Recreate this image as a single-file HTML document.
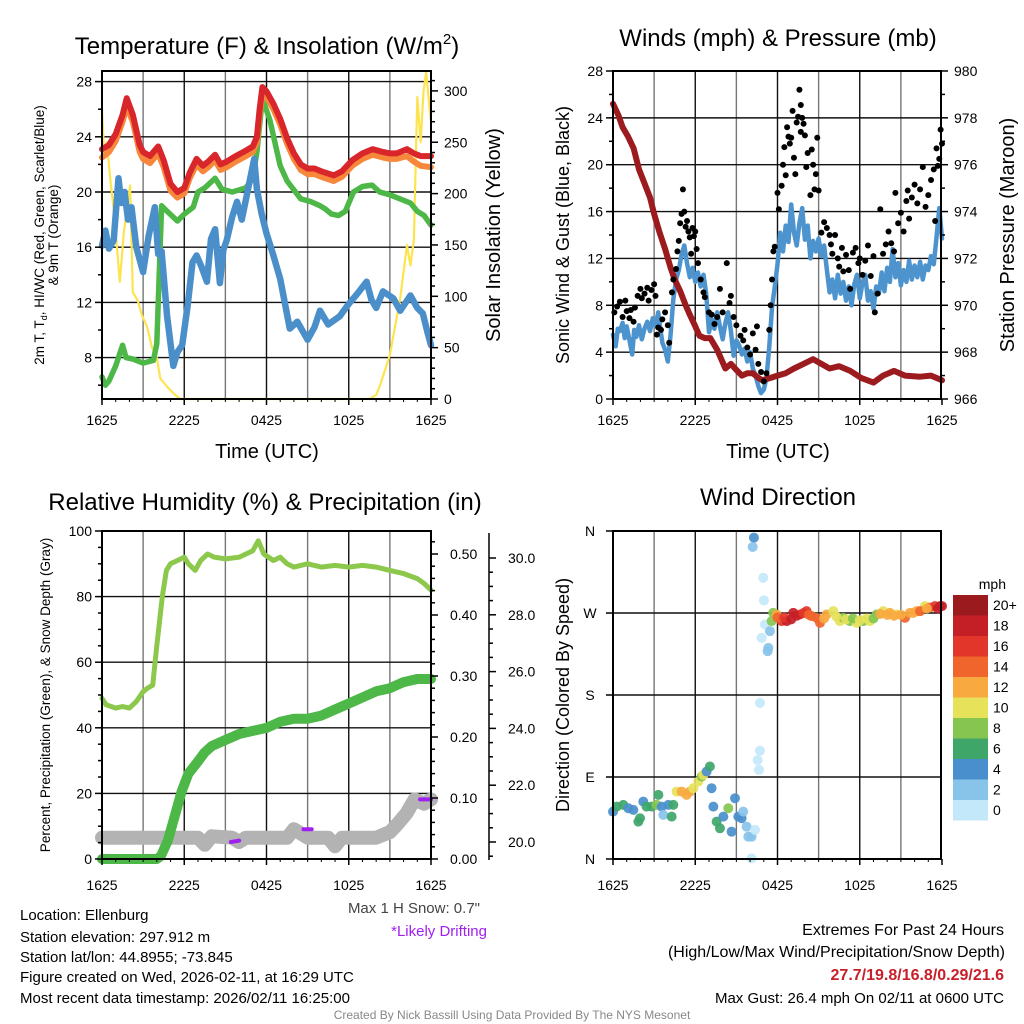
<!DOCTYPE html>
<html><head><meta charset="utf-8">
<style>
html,body{margin:0;padding:0;background:#fff;}
svg{display:block;font-family:"Liberation Sans",Arial,sans-serif;}
</style></head>
<body>
<svg id="fig" width="1024" height="1024" viewBox="0 0 1024 1024" xmlns="http://www.w3.org/2000/svg">
<rect width="1024" height="1024" fill="#fff"/>
<g id="grids"></g>
<g id="series"></g>
<g id="frames"></g>
<g id="texts" fill="#000">
<text x="267" y="54" font-size="24" text-anchor="middle">Temperature (F) &amp; Insolation (W/m<tspan dy="-10" font-size="15">2</tspan><tspan dy="10">)</tspan></text>
<text transform="translate(44,235) rotate(-90)" font-size="13.5" text-anchor="middle">2m T, T<tspan font-size="9" dy="3">d</tspan><tspan dy="-3">, HI/WC (Red, Green, Scarlet/Blue)</tspan></text>
<text transform="translate(58,235) rotate(-90)" font-size="13.5" text-anchor="middle">&amp; 9m T (Orange)</text>
<text transform="translate(500,235) rotate(-90)" font-size="20" text-anchor="middle">Solar Insolation (Yellow)</text>
<text x="267" y="458" font-size="20" text-anchor="middle">Time (UTC)</text>
<text x="778" y="46" font-size="24" text-anchor="middle">Winds (mph) &amp; Pressure (mb)</text>
<text transform="translate(569,235) rotate(-90)" font-size="18" text-anchor="middle">Sonic Wind &amp; Gust (Blue, Black)</text>
<text transform="translate(1014,235) rotate(-90)" font-size="20" text-anchor="middle">Station Pressure (Maroon)</text>
<text x="778" y="458" font-size="20" text-anchor="middle">Time (UTC)</text>
<text x="265" y="510" font-size="24" text-anchor="middle">Relative Humidity (%) &amp; Precipitation (in)</text>
<text transform="translate(50,695) rotate(-90)" font-size="13.5" text-anchor="middle">Percent, Precipitation (Green), &amp; Snow Depth (Gray)</text>
<text x="778" y="505" font-size="24" text-anchor="middle">Wind Direction</text>
<text transform="translate(569,695) rotate(-90)" font-size="18" text-anchor="middle">Direction (Colored By Speed)</text>
<text x="1006" y="589" font-size="14" text-anchor="end">mph</text>
<g font-size="15">
<text x="20" y="920">Location: Ellenburg</text>
<text x="20" y="942">Station elevation: 297.912 m</text>
<text x="20" y="962">Station lat/lon: 44.8955; -73.845</text>
<text x="20" y="982">Figure created on Wed, 2026-02-11, at 16:29 UTC</text>
<text x="20" y="1003">Most recent data timestamp: 2026/02/11 16:25:00</text>
</g>
<text x="480" y="913" font-size="15" fill="#444" text-anchor="end">Max 1 H Snow: 0.7"</text>
<text x="487" y="936" font-size="15" fill="#a020f0" text-anchor="end">*Likely Drifting</text>
<text x="1004" y="935" font-size="16" text-anchor="end">Extremes For Past 24 Hours</text>
<text x="1005" y="957" font-size="16" text-anchor="end">(High/Low/Max Wind/Precipitation/Snow Depth)</text>
<text x="1004" y="980" font-size="16" font-weight="bold" fill="#c8202a" text-anchor="end">27.7/19.8/16.8/0.29/21.6</text>
<text x="1004" y="1003" font-size="15" text-anchor="end">Max Gust: 26.4 mph On 02/11 at 0600 UTC</text>
<text x="512" y="1019" font-size="12" fill="#888" text-anchor="middle">Created By Nick Bassill Using Data Provided By The NYS Mesonet</text>
</g>
</svg>
<script>
// ---------- DATA ----------
const xTickLabels = ["1625","2225","0425","1025","1625"];
// Panel 1: temperature (F), times in half-hour steps since 1625
const redT = [0,1,2,3,3.6,4.5,5.5,6,7,8.2,9,10,11,12,12.8,13.8,14.7,15.5,16.5,17.3,18.2,19.5,21,22,22.6,23,23.4,24,25,26,27,28,29,30,31,32,33.8,35,36.5,38,39.5,41,42,43,44.5,45.5,46.5,48];
const redV = [23.1,23.4,24.2,25.6,26.8,25.6,23.4,22.9,22.6,23.3,22.3,20.6,20.0,20.3,21.4,22.4,21.9,22.2,22.7,22.0,22.2,22.6,23.0,23.3,24.0,26.0,27.6,27.3,26.4,25.3,23.9,22.8,22.0,21.7,21.7,21.5,21.2,21.5,22.3,22.8,23.1,22.9,22.8,22.8,23.1,22.8,22.6,22.6];
const orangeV = [22.5,22.9,23.7,25.1,26.2,25.1,22.9,22.4,22.1,22.8,21.8,20.1,19.6,19.9,21.0,22.0,21.5,21.8,22.3,21.6,21.8,22.2,22.6,22.9,23.6,25.6,27.1,26.9,26.0,24.9,23.5,22.4,21.6,21.3,21.3,21.1,20.8,21.1,21.9,22.4,22.7,22.5,22.4,22.4,22.6,22.2,21.9,21.8];
const greenT = [0,0.5,1,2,3,3.5,4.5,6,7.5,8,8.7,9.5,11,12,13.3,14,15,16.5,17.5,19,21,22,22.6,23.4,24.5,26,27,29,30.5,31.8,32.5,33.5,34.5,35.5,36.7,38,39.4,40.5,42,43.5,45,46,47,48];
const greenV = [6.6,6.0,6.3,7.4,8.9,8.0,7.9,7.6,7.8,9.0,19.0,18.6,17.9,18.4,18.9,20.0,20.3,21.0,20.2,20.0,20.3,21.0,22.9,26.8,25.2,21.9,20.8,19.5,19.3,19.0,18.8,18.4,18.3,18.6,20.0,20.4,20.5,20.0,19.8,19.5,19.2,18.6,18.3,17.6];
const blueT = [0,0.5,1,1.7,2.4,2.8,3.3,3.8,4.3,5,6,6.8,7.7,8.2,8.7,9.5,10.4,11,11.7,12.5,13.2,13.8,14.5,15.3,15.9,16.5,17.2,17.7,18.2,19,19.7,20.4,22.2,22.6,23.3,24,25,26,27.4,28.5,30,31,31.8,33,34.7,36,37.2,38.6,39.3,40,41,42.5,43.5,45,46,46.8,47.5,48];
const blueV = [16.1,17.2,15.9,16.5,21.0,19.2,20.0,18.0,18.9,16.0,14.2,16.8,18.9,15.5,15.7,11.0,7.4,8.4,8.9,11.8,14.9,15.4,14.6,13.5,16.6,17.3,13.4,15.8,16.5,18.2,19.3,18.0,22.4,20.2,18.4,17.0,15.4,13.7,10.1,10.6,9.3,10.2,11.4,10.4,11.0,11.9,12.6,13.5,12.2,11.6,12.8,12.3,11.4,12.5,11.6,11.2,9.8,8.9];
const solarT = [0,0.3,0.7,1.2,1.8,2.6,3.2,4.1,4.5,5.2,5.8,6.6,7.3,8,8.5,9.5,10.5,11.4,39,40,40.6,42,43.5,44.5,45,45.5,46,46.5,46.9,47.3,47.7,48];
const solarV = [283,240,250,215,179,114,163,208,104,96,82,70,50,40,20,12,5,0,0,4,14,43,98,150,130,155,294,250,300,318,290,270];
// Panel 2: wind / gust / pressure, times in hours
const windT = [0,0.2,0.35,0.5,0.7,0.85,1,1.2,1.4,1.55,1.7,1.9,2.1,2.3,2.5,2.7,2.9,3.1,3.3,3.45,3.6,3.8,4,4.2,4.4,4.6,4.8,5,5.2,5.4,5.6,5.8,6,6.2,6.4,6.6,6.8,7,7.2,7.4,7.6,7.8,8,8.2,8.4,8.6,8.8,9,9.2,9.4,9.6,9.8,10,10.2,10.4,10.6,10.8,11,11.2,11.4,11.6,11.8,12,12.2,12.4,12.6,12.8,13,13.2,13.4,13.6,13.8,14,14.2,14.4,14.6,14.8,15,15.2,15.4,15.6,15.8,16,16.2,16.4,16.6,16.8,17,17.2,17.4,17.6,17.8,18,18.2,18.4,18.6,18.8,19,19.2,19.4,19.6,19.8,20,20.2,20.4,20.6,20.8,21,21.2,21.4,21.6,21.8,22,22.2,22.4,22.6,22.8,23,23.2,23.4,23.6,23.8,24];
const windV = [5.5,4.5,6.0,5.8,6.5,5.2,6.2,5.0,3.8,5.9,5.3,6.3,5.1,6.0,6.6,5.8,6.9,6.2,7.4,6.0,4.8,4.2,3.2,5.5,8.5,10.2,11.0,12.3,13.1,11.6,10.4,11.2,10.0,10.8,9.6,10.6,9.0,5.7,6.8,6.0,7.4,6.2,5.1,6.5,7.4,5.8,3.7,5.0,4.6,3.8,4.3,3.2,4.0,2.6,2.0,1.1,0.5,0.8,1.8,4.5,7.8,9.6,11.5,14.2,12.6,14.8,13.4,16.6,14.2,13.1,15.0,16.3,13.6,14.8,12.0,13.5,12.6,13.7,12.2,13.1,11.0,9.1,10.2,8.6,10.6,9.0,10.0,8.4,9.6,8.0,9.8,10.6,8.6,9.9,10.6,8.4,9.2,7.7,9.6,9.0,10.8,9.2,11.2,10.0,12.8,10.4,11.6,9.7,11.0,10.0,11.8,10.2,11.4,10.4,11.7,10.2,11.4,11.0,12.2,11.5,13.8,16.3,13.7];
const gustT = [0.1,0.3,0.5,0.7,0.9,1.0,1.2,1.3,1.5,1.6,1.8,2.0,2.1,2.3,2.5,2.6,2.8,3.0,3.1,3.2,3.3,3.5,3.6,3.8,4.0,4.1,4.3,4.4,4.6,4.7,4.8,4.9,5.0,5.1,5.2,5.3,5.4,5.5,5.6,5.7,5.8,5.9,6.0,6.1,6.2,6.4,6.6,6.7,7.0,7.2,7.4,7.6,7.8,8.0,8.3,8.5,8.6,8.8,9.0,9.3,9.5,9.6,9.8,10.0,10.2,10.4,10.5,10.6,10.8,11.0,11.2,11.4,11.5,11.6,11.7,11.8,12.0,12.1,12.3,12.4,12.5,12.6,12.7,12.8,12.9,13.0,13.1,13.2,13.3,13.4,13.5,13.6,13.7,13.7,13.8,13.9,14.0,14.1,14.2,14.4,14.5,14.6,14.7,14.8,14.9,15.0,15.2,15.4,15.6,15.8,15.9,16.0,16.2,16.4,16.5,16.7,16.8,17.0,17.2,17.3,17.5,17.7,17.9,18.0,18.2,18.4,18.6,18.8,19.0,19.1,19.3,19.5,19.7,19.9,20.1,20.3,20.5,20.6,20.8,21.0,21.2,21.4,21.5,21.6,21.8,22.0,22.2,22.4,22.6,22.8,23.0,23.2,23.4,23.5,23.6,23.7,23.8,23.9,24.0];
const gustV = [7.4,7.9,8.3,7.0,8.4,7.5,6.9,7.6,6.6,7.8,8.8,9.4,8.6,9.0,9.5,8.4,9.3,9.8,8.8,5.5,6.1,5.9,6.8,7.4,6.3,4.8,9.1,10.2,11.1,12.6,13.5,15.0,15.8,17.9,16.0,14.7,15.2,14.3,13.8,12.4,14.6,13.9,14.3,12.8,11.6,10.2,9.1,8.7,7.4,7.2,6.4,7.0,9.4,7.4,11.6,8.2,8.8,7.0,6.3,5.4,5.0,5.9,4.4,3.8,5.6,4.2,6.2,3.0,2.3,1.5,2.2,5.9,8.0,10.2,12.6,13.0,17.6,16.2,18.2,20.0,21.5,19.1,23.2,22.4,21.8,22.3,24.6,20.6,19.2,23.6,24.1,26.4,22.8,25.1,24.0,23.5,22.5,19.8,21.0,17.4,21.3,20.0,17.9,19.2,22.3,17.8,14.2,15.1,14.6,14.0,13.2,12.4,14.0,12.0,11.3,12.9,10.9,12.3,11.0,9.4,12.5,12.9,11.6,12.0,10.6,11.8,13.1,10.5,12.2,7.4,9.0,16.2,12.4,13.2,14.3,13.3,12.6,17.6,15.0,15.9,14.3,16.9,17.8,15.4,17.2,18.3,16.7,17.9,19.8,16.4,17.4,18.7,19.6,15.2,21.4,19.9,20.5,23.0,21.8];
const presT = [0,0.4,0.7,1.1,1.5,1.9,2.3,2.7,3.0,3.4,3.8,4.2,4.5,4.9,5.3,5.6,6.0,6.3,6.7,7.1,7.6,8.2,8.6,8.9,9.4,9.8,10.2,10.6,10.9,11.5,12,12.6,13.2,13.9,14.6,15.2,15.8,16.5,17.3,18.1,19,19.7,20.5,21.3,22.4,23.2,24];
const presV = [978.6,978.1,977.6,977.2,976.7,975.8,975.2,974.6,973.9,973.1,972.4,971.6,971.1,970.6,970.0,969.6,969.1,968.7,968.6,968.6,968.1,967.3,967.5,967.3,967.0,967.1,967.1,966.9,966.8,966.9,967.0,967.1,967.3,967.5,967.7,967.5,967.3,967.4,967.2,966.9,966.7,967.0,967.2,967.0,966.95,967.0,966.8];
// Panel 3: RH (%), precip (in), snow depth (in)
const rhT = [0,0.3,1,1.5,2,2.5,3,3.3,3.7,4,4.4,4.7,5,5.5,6,6.3,6.8,7.2,7.7,8.2,9,10,11,11.4,11.8,12.5,13,13.5,14,15,16,17,18,19,20,21,22,23,23.5,24];
const rhV = [49,47,46,46.5,46,48,51,52,53,65,80,88,90,91,92,90,88,91,93,92,91.5,92,94,97,93,91,92,90,89,90,89,89.5,89,89.5,89,88,87,85.5,84,82];
const prT = [0,1,2,3,4,4.3,4.8,5.3,5.8,6.3,7,7.5,8,9,10,11,12,13,14,15,16,17,18,19,20,21,22,23,24];
const prV = [0,0,0,0,0,0.005,0.03,0.07,0.11,0.14,0.16,0.175,0.185,0.195,0.205,0.21,0.215,0.225,0.23,0.23,0.235,0.245,0.255,0.265,0.275,0.28,0.29,0.295,0.295];
const snT = [0,2,4,6,7,7.5,8,9.5,10,10.5,13.5,14,15,16.5,17,17.5,20,21,21.5,22.2,22.8,23.5,24];
const snV = [20.15,20.15,20.15,20.15,20.15,19.9,20.2,20.15,20.0,20.15,20.15,20.45,20.15,20.15,19.85,20.15,20.15,20.35,20.6,21.0,21.5,21.35,21.5];
const driftT = [[9.4,10.0],[14.7,15.3],[23.2,24]];
const driftV = [[20.0,20.05],[20.45,20.45],[21.5,21.5]];
// Panel 4: wind direction (deg) colored by speed (mph)
const dirT = [0,0.27,0.75,1.12,1.48,1.85,1.97,2.21,2.45,2.82,3.18,3.31,3.55,3.67,4.04,4.28,4.4,4.64,5.01,5.37,5.61,5.86,6.22,6.47,6.59,6.83,7.07,7.19,7.32,7.56,7.8,8.05,8.41,8.65,8.9,9.14,9.38,9.5,9.75,9.87,10.11,10.36,10.11,10.28,10.19,10.96,11.01,10.72,10.72,10.55,10.65,11.08,10.84,11.45,11.33,11.28,11.57,11.69,11.94,12.3,12.67,13.15,13.64,14.12,14.49,14.85,15.1,15.58,16.07,16.55,16.8,17.28,17.77,18.26,18.74,19.23,19.71,20.2,20.69,21.3,21.66,22.15,22.75,23.12,23.48,23.85,24,12.0,12.5,13.0,13.4,13.9,14.3,15.4,16.3,17.0,17.5,18.0,18.5,19.0,19.5,20.0,20.5,21.0,21.9,22.4,22.9,23.7];
const dirV = [52,57.5,59.4,55.7,53.9,41,44.7,63,57.5,57.5,59.4,70.4,57.5,48.4,59.4,46.5,59.4,74,74,70.4,74,77.7,85,90.5,92.4,96,101.5,77.7,57.5,41,33.7,46.5,55.7,30,66.7,46.5,44.7,52,35.5,24.5,24.5,31.9,0.7,352.7,342.5,308.7,283.8,171.2,118.8,108.5,97.9,257.4,242.7,250.1,231.7,228.1,261.1,270.2,268.4,261.1,261.1,270.2,268.4,272.1,266.6,264.7,259.2,268.4,272.1,261.1,264.7,261.1,259.2,261.1,261.1,268.4,272.1,270.2,268.4,264.7,270.2,272.1,277.6,276,277.6,277.6,277.6,265,265,263,267,270,268,264,266,263,264,262,264,264,269,268,267,268,270,272,275,275];
const dirS = [4,6,6,4,4,6,6,4,6,6,8,6,4,2,4,6,6,10,12,12,12,10,10,8,10,4,6,4,4,6,6,4,8,4,4,4,4,2,2,2,2,0,0,4,2,0,0,0,0,0,0,0,0,2,2,2,8,8,12,16,18,18,16,16,14,14,14,12,10,10,8,8,10,8,10,8,10,12,10,14,12,12,10,14,16,18,18,14,16,18,18,16,14,12,10,10,8,10,10,8,12,12,12,12,12,14,12,18];
const cbLabels = ["20+","18","16","14","12","10","8","6","4","2","0"];
const cbColors = ["#9b1a1e","#c41f26","#e2362b","#f0652b","#f8a940","#e6e25a","#86c550","#3fa66a","#4a8fcd","#88c3ea","#c3e8fa"];

// ---------- DRAW ----------
const NS="http://www.w3.org/2000/svg";
const G=document.getElementById('grids'),S=document.getElementById('series'),F=document.getElementById('frames'),T=document.getElementById('texts');
function el(tag,attrs,parent){const e=document.createElementNS(NS,tag);for(const k in attrs)e.setAttribute(k,attrs[k]);parent.appendChild(e);return e;}
function txt(x,y,s,anchor,size,parent){const e=el('text',{x:x,y:y,'font-size':size,'text-anchor':anchor},parent);e.textContent=s;return e;}
const HPX=329/24;
function xs(x0){return h=>x0+h*HPX;}
const P1={x0:102,x1:431,y0:71,y1:399,lab:26,yl:v=>399-(v-5)*13.8,yr:v=>399-v*1.027};
const P2={x0:613,x1:941,y0:71,y1:399,lab:26,yl:v=>399-v*11.714,yr:p=>399-(p-966)*23.43};
const P3={x0:102,x1:431,y0:531,y1:859,lab:31,yl:v=>859-v*3.28,yp:v=>859-v*610,ys:v=>842-(v-20)*28.4};
const P4={x0:613,x1:941,y0:531,y1:859,lab:31,yd:d=>859-d*0.9111};

function vgrid(P){const x=xs(P.x0);for(let h=3;h<24;h+=3){const g=el('line',{x1:x(h),x2:x(h),y1:P.y0,y2:P.y1,stroke:h%6?'#777':'#111','stroke-width':1.4},G);

}}
function hline(P,y,c){const g=el('line',{x1:P.x0,x2:P.x1,y1:y,y2:y,stroke:c||'#111','stroke-width':1.4},G);

}
function frame(P,name){const r=el('rect',{x:P.x0,y:P.y0,width:P.x1-P.x0,height:P.y1-P.y0,fill:'none',stroke:'#000','stroke-width':2},F);


const x=xs(P.x0);
for(let i=0;i<xTickLabels.length;i++){const h=i*6;el('line',{x1:x(h),x2:x(h),y1:P.y1,y2:P.y1+6,stroke:'#000','stroke-width':1.5},F);
const t=txt(x(h),P.y1+P.lab,xTickLabels[i],'middle',14,T);

}
for(let h=1;h<24;h++){if(h%6)el('line',{x1:x(h),x2:x(h),y1:P.y1,y2:P.y1+3,stroke:'#000','stroke-width':1},F);}}
function ytick(x,y,len,label,anchor,dx,name){el('line',{x1:x,x2:x+len,y1:y,y2:y,stroke:'#000','stroke-width':1.5},F);
if(label!==null){const t=txt(x+dx,y+5,label,anchor,14,T);

}}
function path(ts,vs,x,y,attrs,name){let d='';for(let i=0;i<ts.length;i++)d+=(i?'L':'M')+x(ts[i]).toFixed(1)+','+y(vs[i]).toFixed(1);
const p=el('path',Object.assign({d:d,fill:'none','stroke-linejoin':'round','stroke-linecap':'round'},attrs),S);

return p;}

// Panel 1
vgrid(P1);
for(let v=8;v<=28;v+=4)hline(P1,P1.yl(v));
const x1h=h=>P1.x0+h*HPX/2; // temp/solar times are in half-hour units
path(solarT,solarV,x1h,P1.yr,{stroke:'#fde44f','stroke-width':2.2},'solar-insolation-line');
path(greenT,greenV,x1h,P1.yl,{stroke:'#4db848','stroke-width':5.5},'dewpoint-line');
path(blueT,blueV,x1h,P1.yl,{stroke:'#4a8fca','stroke-width':6.5},'wind-chill-line');
path(redT,orangeV,x1h,P1.yl,{stroke:'#f7873a','stroke-width':6},'temp-9m-line');
path(redT,redV,x1h,P1.yl,{stroke:'#d8262b','stroke-width':6},'temp-2m-line');
frame(P1,'temperature-plot-frame');
for(let v=6;v<=28;v+=2)ytick(P1.x0-(v%4?4:7),P1.yl(v),v%4?4:7,v%4?null:String(v),'end',-3,'temperature-y-tick-label');
for(let w=0;w<=310;w+=10)ytick(P1.x1,P1.yr(w),w%50?4:7,w%50?null:String(w),'start',13,'solar-y-tick-label');

// Panel 2
vgrid(P2);
for(let v=4;v<=28;v+=4)hline(P2,P2.yl(v));
path(windT,windV,xs(P2.x0),P2.yl,{stroke:'#4d94cf','stroke-width':4.5},'sonic-wind-line');
path(presT,presV,xs(P2.x0),P2.yr,{stroke:'#9b1b1e','stroke-width':6},'pressure-line');
const xg=xs(P2.x0);
for(let i=0;i<gustT.length;i++){const c=el('circle',{cx:xg(gustT[i]),cy:P2.yl(gustV[i]),r:3,fill:'#000'},S);

}
frame(P2,'winds-plot-frame');
for(let v=0;v<=28;v+=2)ytick(P2.x0-(v%4?4:7),P2.yl(v),v%4?4:7,v%4?null:String(v),'end',-3,'wind-y-tick-label');
for(let p=966;p<=980;p+=1)ytick(P2.x1,P2.yr(p),p%2?4:7,p%2?null:String(p),'start',13,'pressure-y-tick-label');

// Panel 3
vgrid(P3);
for(let v=20;v<=80;v+=20)hline(P3,P3.yl(v));
const x3=xs(P3.x0);
path(snT,snV,x3,P3.ys,{stroke:'#b3b3b3','stroke-width':14},'snow-depth-line');
for(let k=0;k<driftT.length;k++)path(driftT[k],driftV[k],x3,P3.ys,{stroke:'#a020f0','stroke-width':4},'drifting-segment');
path(prT,prV,x3,P3.yp,{stroke:'#4db848','stroke-width':10},'precipitation-line');
path(rhT,rhV,x3,P3.yl,{stroke:'#8cc84b','stroke-width':5},'relative-humidity-line');
frame(P3,'humidity-plot-frame');
for(let v=0;v<=100;v+=5)ytick(P3.x0-(v%20?4:7),P3.yl(v),v%20?4:7,v%20?null:String(v),'end',-3,'humidity-y-tick-label');
for(let k=0;k<=26;k++){const v=k/50;ytick(P3.x1,P3.yp(v),k%5?4:7,k%5?null:v.toFixed(2),'start',19,'precip-y-tick-label');}
el('line',{x1:489,x2:489,y1:533,y2:860,stroke:'#000','stroke-width':1.5},F);
for(let k=0;k<=42;k++){const v=19.5+k*0.25;if(Math.abs(v*2-Math.round(v*2))>0.01)continue;const maj=Math.abs(v/2-Math.round(v/2))<0.01;
ytick(489,P3.ys(v),maj?7:4,maj?v.toFixed(1):null,'start',19,'snow-y-tick-label');}

// Panel 4
vgrid(P4);
for(let d=90;d<=270;d+=90)hline(P4,P4.yd(d));
const x4=xs(P4.x0);
function spdColor(s){const idx=Math.min(10,Math.floor(s/2));return cbColors[10-idx];}
for(let i=0;i<dirT.length;i++){const c=el('circle',{cx:x4(dirT[i]),cy:P4.yd(dirV[i]),r:5,fill:spdColor(dirS[i]),'fill-opacity':0.92},S);

}
frame(P4,'direction-plot-frame');
const dirLabels=["N","E","S","W","N"];
for(let k=0;k<5;k++)ytick(P4.x0-7,P4.yd(k*90),7,dirLabels[k],'middle',-16,'direction-y-tick-label');
for(let i=0;i<cbLabels.length;i++){const y=595+i*20.5;
const r=el('rect',{x:953,y:y,width:35,height:20.5,fill:cbColors[i]},S);


const t=txt(993,y+15,cbLabels[i],'start',14,T);

}
</script>
</body></html>
